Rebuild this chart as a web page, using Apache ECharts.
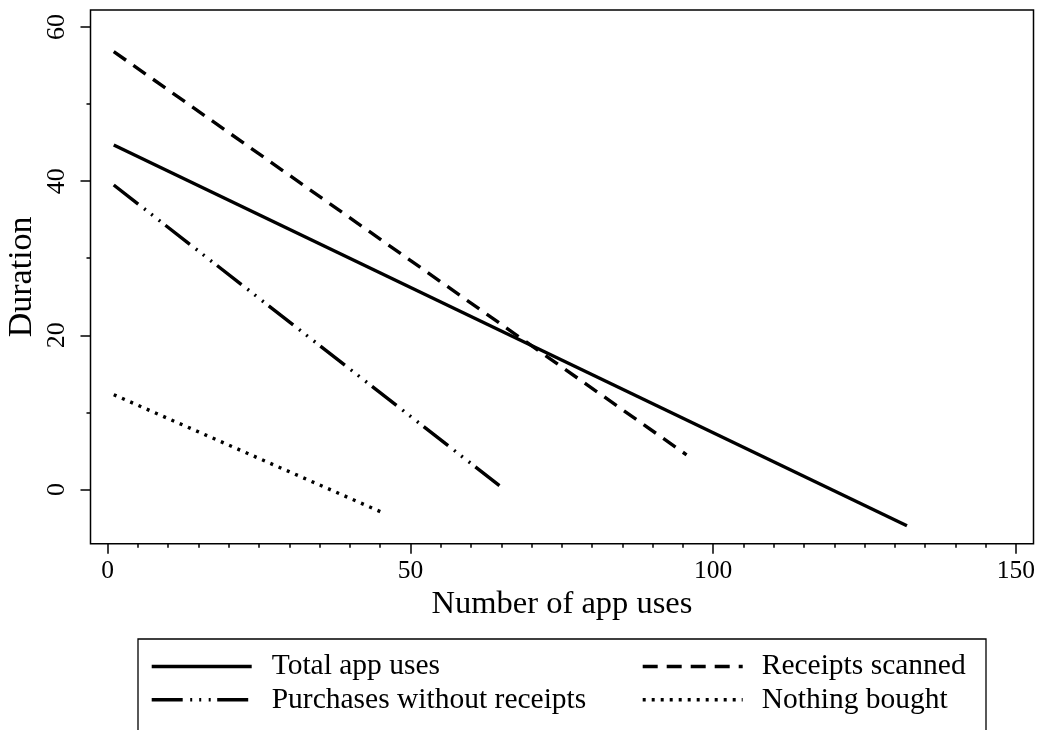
<!DOCTYPE html>
<html>
<head>
<meta charset="utf-8">
<script src="https://cdn.jsdelivr.net/npm/echarts@6/dist/echarts.min.js"></script>
<style>html,body{margin:0;padding:0;background:#fff;}#c{width:1038px;height:730px;}</style>
</head>
<body>
<div id="c"></div>
<script>
// ---- data ----
const seriesNames = ['Total app uses', 'Receipts scanned', 'Purchases without receipts', 'Nothing bought'];
const totalX = [1, 132];
const totalY = [44.7, -4.7];
const receiptsX = [1, 95.6];
const receiptsY = [56.8, 4.5];
const purchasesX = [1, 64.7];
const purchasesY = [39.5, 0.5];
const nothingX = [1, 45.7];
const nothingY = [12.3, -3.1];
const xMajorTicks = [0, 50, 100, 150];
const xMinorTicks = [5,10,15,20,25,30,35,40,45,55,60,65,70,75,80,85,90,95,105,110,115,120,125,130,135,140,145];
const yMajorTicks = [0, 20, 40, 60];
const yMinorTicks = [10, 30, 50];

const pairs = (xs, ys) => xs.map((x, i) => [x, ys[i]]);
const FONT = 'Liberation Serif';
const XMIN = -2.84, XMAX = 152.9, YMIN = -7.03, YMAX = 62.2;

const chart = echarts.init(document.getElementById('c'));
function lineSeries(name, xs, ys, type) {
  return {
    name: name, type: 'line', xAxisIndex: 0, yAxisIndex: 0,
    data: pairs(xs, ys), symbol: 'none', showSymbol: false,
    lineStyle: { color: '#000', width: 3.4, type: type, cap: 'butt' },
    itemStyle: { color: '#000' },
    emphasis: { disabled: true }, silent: true
  };
}
const legendCommon = {
  orient: 'vertical', padding: 0, itemGap: 3.3, itemWidth: 100, itemHeight: 20,
  textStyle: { color: '#000', fontFamily: FONT, fontSize: 29.5, lineHeight: 30 },
  lineStyle: { width: 3.4 },
  itemStyle: { color: 'rgba(0,0,0,0)', borderWidth: 0, opacity: 0 },
  selectedMode: false
};
chart.setOption({
  animation: false,
  backgroundColor: '#fff',
  grid: { left: 90.5, top: 10, right: 4.5, bottom: 186.3, show: true, borderColor: '#000', borderWidth: 1.5,
          backgroundColor: 'transparent', containLabel: false, outerBoundsMode: 'none' },
  xAxis: [
    { type: 'value', position: 'bottom', min: XMIN, max: XMAX,
      axisLine: { show: false, onZero: false }, splitLine: { show: false },
      axisTick: { show: true, customValues: xMajorTicks, length: 10, lineStyle: { color: '#000', width: 1.5 } },
      axisLabel: { customValues: xMajorTicks, margin: 15, color: '#000', fontFamily: FONT, fontSize: 25.5, showMinLabel: true, showMaxLabel: true },
      name: 'Number of app uses', nameLocation: 'middle', nameGap: 44, nameMoveOverlap: false,
      nameTextStyle: { color: '#000', fontFamily: FONT, fontSize: 32.5 } },
    { type: 'value', position: 'bottom', min: XMIN, max: XMAX,
      axisLine: { show: false, onZero: false }, splitLine: { show: false },
      axisTick: { show: true, customValues: xMinorTicks, length: 4, lineStyle: { color: '#000', width: 1.5 } },
      axisLabel: { show: false } }
  ],
  yAxis: [
    { type: 'value', position: 'left', min: YMIN, max: YMAX,
      axisLine: { show: false, onZero: false }, splitLine: { show: false },
      axisTick: { show: true, customValues: yMajorTicks, length: 10, lineStyle: { color: '#000', width: 1.5 } },
      axisLabel: { customValues: yMajorTicks, rotate: 90, margin: 20, color: '#000', fontFamily: FONT, fontSize: 26 },
      name: 'Duration', nameLocation: 'middle', nameGap: 51, nameRotate: 90, nameMoveOverlap: false,
      nameTextStyle: { color: '#000', fontFamily: FONT, fontSize: 34 } },
    { type: 'value', position: 'left', min: YMIN, max: YMAX,
      axisLine: { show: false, onZero: false }, splitLine: { show: false },
      axisTick: { show: true, customValues: yMinorTicks, length: 4, lineStyle: { color: '#000', width: 1.5 } },
      axisLabel: { show: false } }
  ],
  legend: [
    Object.assign({}, legendCommon, { left: 150, top: 651.5, data: [seriesNames[0], seriesNames[2]],
      textStyle: Object.assign({}, legendCommon.textStyle, { padding: [0, 0, 0, 15] }) }),
    Object.assign({}, legendCommon, { left: 641, top: 651.5, data: [seriesNames[1], seriesNames[3]],
      textStyle: Object.assign({}, legendCommon.textStyle, { padding: [0, 0, 0, 14] }) })
  ],
  graphic: [
    { type: 'rect', shape: { x: 138, y: 639, width: 848, height: 120 }, style: { fill: 'none', stroke: '#000', lineWidth: 1.3 }, silent: true }
  ],
  series: [
    lineSeries(seriesNames[0], totalX, totalY, 'solid'),
    lineSeries(seriesNames[1], receiptsX, receiptsY, [15, 9]),
    lineSeries(seriesNames[2], purchasesX, purchasesY, [31, 7.5, 2, 7, 2, 7.5, 2, 6.5]),
    lineSeries(seriesNames[3], nothingX, nothingY, [3, 6])
  ]
});
</script>
</body>
</html>
